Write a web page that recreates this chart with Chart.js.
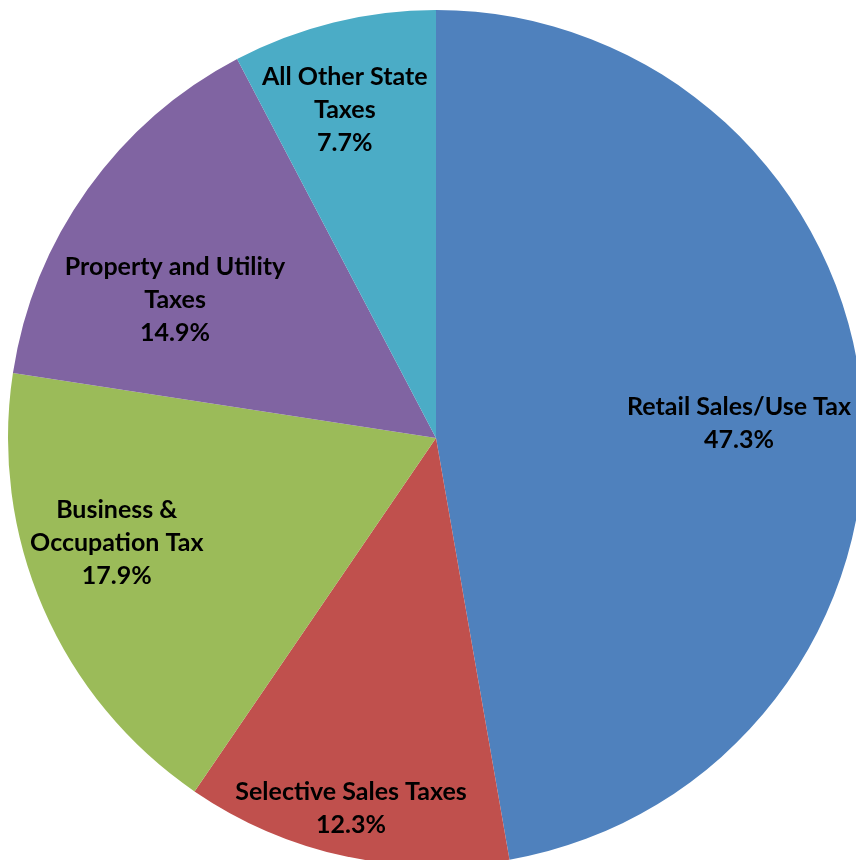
<!DOCTYPE html>
<html>
<head>
<meta charset="utf-8">
<script src="https://cdn.jsdelivr.net/npm/chart.js@4.4.1/dist/chart.umd.min.js"></script>
<style>
  html, body { margin: 0; padding: 0; background: #fff; overflow: hidden; }
  #wrap { position: absolute; left: 0; top: 0; width: 872px; height: 876px; }
</style>
</head>
<body>
<div id="wrap"><canvas id="taxChart"></canvas></div>
<script>
// slice names, one line per array entry
var categories = [
    ["Retail Sales/Use Tax"],
    ["Selective Sales Taxes"],
    ["Business &", "Occupation Tax"],
    ["Property and Utility", "Taxes"],
    ["All Other State", "Taxes"]
];
var shares = [47.3, 12.3, 17.9, 14.9, 7.7];
var sliceColors = ["#4F81BD", "#C0504D", "#9BBB59", "#8064A2", "#4BACC6"];

// puts the label inside each slice, Excel "best fit" style
var sliceLabels = {
    id: 'sliceLabels',
    afterDatasetsDraw: function (chart, args, opts) {
        var ctx = chart.ctx;
        var meta = chart.getDatasetMeta(0);
        ctx.save();
        ctx.fillStyle = '#000';
        ctx.font = 'bold ' + opts.size + 'px ' + opts.family;
        ctx.textAlign = 'center';
        ctx.textBaseline = 'middle';
        meta.data.forEach(function (arc, i) {
            var p = arc.getProps(['x', 'y', 'startAngle', 'endAngle', 'outerRadius'], true);
            var mid = (p.startAngle + p.endAngle) / 2 + opts.turn[i] * Math.PI / 180;
            var r = p.outerRadius * opts.dist[i];
            var cx = p.x + Math.cos(mid) * r;
            var cy = p.y + Math.sin(mid) * r;
            var lines = categories[i].concat([shares[i].toFixed(1) + '%']);
            var top = cy - (lines.length - 1) * opts.lineHeight / 2;
            lines.forEach(function (txt, k) {
                ctx.fillText(txt, cx, top + k * opts.lineHeight);
            });
        });
        ctx.restore();
    }
};

var ctx = document.getElementById('taxChart').getContext('2d');
var myChart = new Chart(ctx, {
    type: 'pie',
    data: {
        labels: categories.map(function (c) { return c.join(' '); }),
        datasets: [{
            data: shares,
            backgroundColor: sliceColors,
            borderWidth: 0
        }]
    },
    options: {
        responsive: true,
        maintainAspectRatio: false,
        animation: false,
        layout: { padding: 8 },
        plugins: {
            legend: { display: false },
            tooltip: { enabled: false },
            sliceLabels: {
                family: 'Lato, "Open Sans", sans-serif',
                size: 25,
                lineHeight: 33,
                dist: [0.709, 0.887, 0.785, 0.690, 0.795],
                turn: [2.1, 0.7, 5.3, -7.6, -1.7]
            }
        }
    },
    plugins: [sliceLabels]
});
</script>
</body>
</html>
